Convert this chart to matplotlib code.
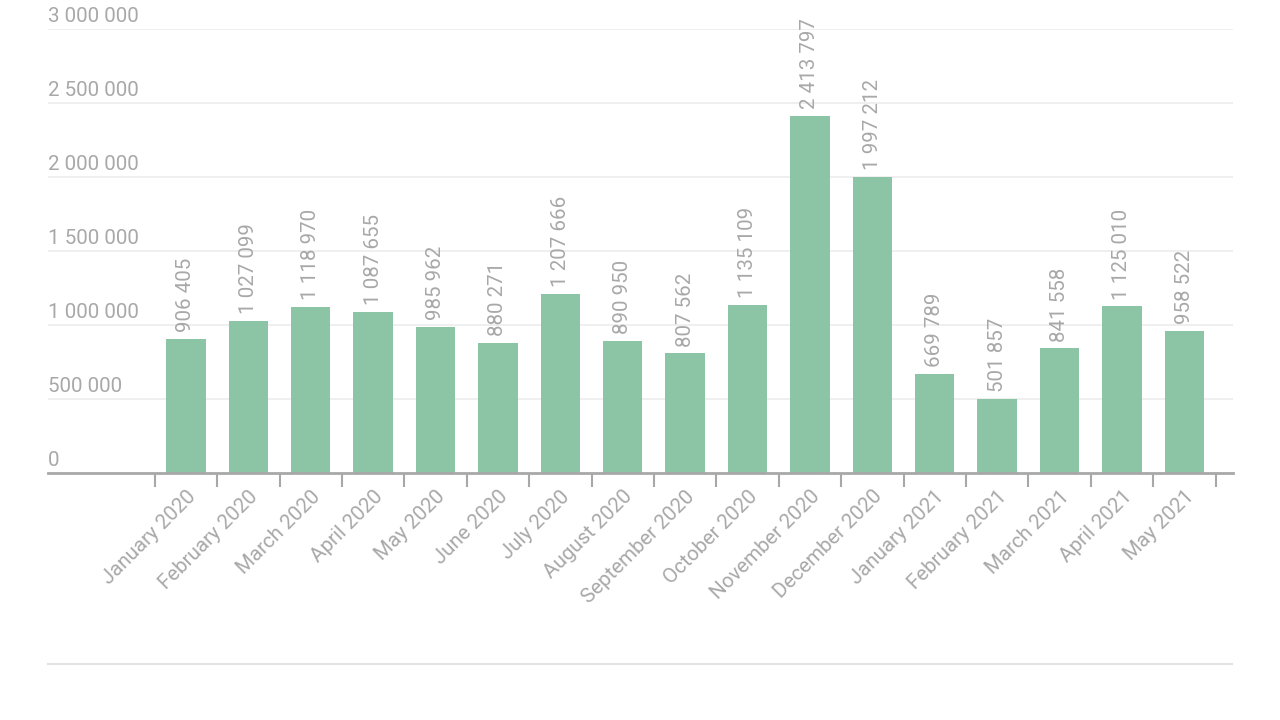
import matplotlib
matplotlib.use("Agg")
import matplotlib.pyplot as plt
import matplotlib.transforms as mtransforms
import numpy as np

months = ["January 2020", "February 2020", "March 2020", "April 2020", "May 2020",
          "June 2020", "July 2020", "August 2020", "September 2020", "October 2020",
          "November 2020", "December 2020", "January 2021", "February 2021",
          "March 2021", "April 2021", "May 2021"]
values = [906405, 1027099, 1118970, 1087655, 985962, 880271, 1207666, 890950,
          807562, 1135109, 2413797, 1997212, 669789, 501857, 841558, 1125010, 958522]
yticks = [0, 500000, 1000000, 1500000, 2000000, 2500000, 3000000]

BAR = "#8cc5a5"
TXT = "#a8a8a8"
GRID = "#ececec"
AXIS = "#a8a8a8"

plt.rcParams['font.family'] = ['Roboto', 'DejaVu Sans']

def fmt(v):
    return f"{v:,}".replace(",", " ")

fig = plt.figure(figsize=(12.8, 7.2), dpi=100)
ax = fig.add_axes([48/1280, 1-473/720, (1233-48)/1280, (473-29)/720])

x = np.arange(len(months))
ax.bar(x, values, width=0.63, color=BAR, zorder=2)

ax.set_xlim(-2.21, 16.78)
ax.set_ylim(0, 3000000)

trans = mtransforms.blended_transform_factory(ax.transAxes, ax.transData)
offset = mtransforms.ScaledTranslation(0, 3/100, fig.dpi_scale_trans)
for t in yticks:
    if t > 0:
        ax.axhline(t, color=GRID, lw=1.2, zorder=0)
    ax.text(0.0, t, fmt(t), transform=trans + offset, ha='left', va='bottom',
            fontsize=14.8, color=TXT)
ax.set_yticks([])

for s in ['top', 'right', 'left']:
    ax.spines[s].set_visible(False)
ax.spines['bottom'].set_color(AXIS)
ax.spines['bottom'].set_linewidth(2)

ax.set_xticks(np.arange(len(months) + 1) - 0.5)
ax.set_xticklabels([])
ax.tick_params(axis='x', which='major', length=10, width=1.5, color=AXIS)
ax.set_xticks(x, minor=True)
ax.set_xticklabels(months, minor=True, rotation=45, ha='right',
                   rotation_mode='anchor', fontsize=14.8, color=TXT)
ax.tick_params(axis='x', which='minor', length=0, pad=10)

for xi, v in zip(x, values):
    ax.annotate(fmt(v), (xi, v), xytext=(0, 5), textcoords='offset points',
                rotation=90, ha='center', va='bottom', fontsize=14.8, color=TXT,
                annotation_clip=False)

fig.add_artist(plt.Line2D([48/1280, 1232/1280], [1-664/720, 1-664/720],
                          color="#e3e3e3", lw=1.5))

fig.savefig("out.png", dpi=100, facecolor="white")
